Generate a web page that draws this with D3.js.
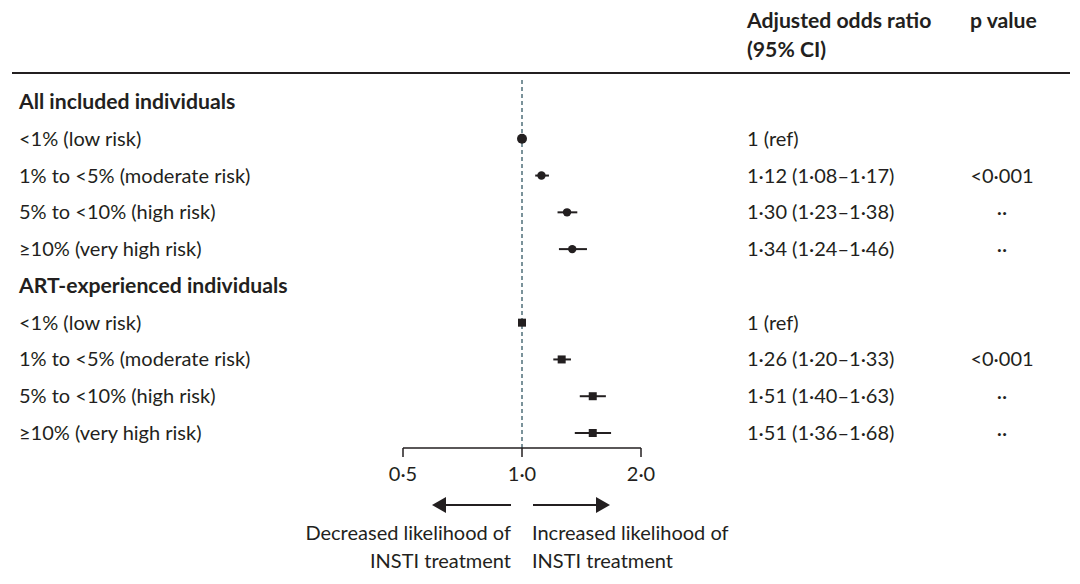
<!DOCTYPE html>
<html>
<head>
<meta charset="utf-8">
<script src="https://cdn.jsdelivr.net/npm/d3@7"></script>
<style>
  body { margin: 0; background: #fff; }
  text { font-family: Lato, "Open Sans", sans-serif; fill: #231f20; }
</style>
</head>
<body>
<div id="chart"></div>
<script>
// rows top to bottom; header rows have no estimate
const labels = ["All included individuals", "<1% (low risk)", "1% to <5% (moderate risk)", "5% to <10% (high risk)", "≥10% (very high risk)",
  "ART-experienced individuals", "<1% (low risk)", "1% to <5% (moderate risk)", "5% to <10% (high risk)", "≥10% (very high risk)"];
const isHeader = [true, false, false, false, false, true, false, false, false, false];
const group = ["all", "all", "all", "all", "all", "art", "art", "art", "art", "art"];
const estimate = [null, 1, 1.12, 1.30, 1.34, null, 1, 1.26, 1.51, 1.51];
const lower = [null, 1, 1.08, 1.23, 1.24, null, 1, 1.20, 1.40, 1.36];
const upper = [null, 1, 1.17, 1.38, 1.46, null, 1, 1.33, 1.63, 1.68];
const orText = ["", "1 (ref)", "1·12 (1·08–1·17)", "1·30 (1·23–1·38)", "1·34 (1·24–1·46)",
  "", "1 (ref)", "1·26 (1·20–1·33)", "1·51 (1·40–1·63)", "1·51 (1·36–1·68)"];
const pText = ["", "", "<0·001", "··", "··", "", "", "<0·001", "··", "··"];
const ticks = [0.5, 1, 2];
const tickLabels = ["0·5", "1·0", "2·0"];

const W = 1080, H = 584;
const ink = "#231f20";
const fs = 20, fsBold = 21.2;
const svg = d3.select("#chart").append("svg").attr("width", W).attr("height", H);

const x = d3.scaleLog().base(2).domain([0.5, 2]).range([403, 641]);
const y = d3.scaleLinear().domain([0, labels.length - 1]).range([102, 433]);

// header
svg.append("text").attr("x", 747).attr("y", 28).attr("font-size", fsBold).attr("font-weight", 700).text("Adjusted odds ratio");
svg.append("text").attr("x", 747).attr("y", 57).attr("font-size", fsBold).attr("font-weight", 700).text("(95% CI)");
svg.append("text").attr("x", 970).attr("y", 28).attr("font-size", fsBold).attr("font-weight", 700).text("p value");
svg.append("line").attr("x1", 12).attr("x2", 1070).attr("y1", 73).attr("y2", 73).attr("stroke", ink).attr("stroke-width", 2);

// reference line
svg.append("line").attr("x1", x(1)).attr("x2", x(1)).attr("y1", 80).attr("y2", 448)
  .attr("stroke", "#4f6f7a").attr("stroke-width", 1.5).attr("stroke-dasharray", "4,3");

const rows = svg.selectAll(".row").data(labels).join("g").attr("class", "row")
  .attr("transform", (d, i) => "translate(0," + y(i) + ")");

rows.append("text").attr("x", 19).attr("dy", "0.35em")
  .attr("font-size", (d, i) => isHeader[i] ? fsBold : fs)
  .attr("font-weight", (d, i) => isHeader[i] ? 700 : 400)
  .text(d => d);

rows.append("text").attr("x", 747).attr("dy", "0.35em").attr("font-size", fs).text((d, i) => orText[i]);
rows.append("text").attr("x", 1002).attr("dy", "0.35em").attr("text-anchor", "middle").attr("font-size", fs).text((d, i) => pText[i]);

// CI lines and markers
const idx = d3.range(labels.length).filter(i => estimate[i] !== null);
svg.selectAll(".ci").data(idx).join("line").attr("class", "ci")
  .attr("x1", i => x(lower[i])).attr("x2", i => x(upper[i]))
  .attr("y1", i => y(i)).attr("y2", i => y(i))
  .attr("stroke", ink).attr("stroke-width", 2);

svg.selectAll(".dot").data(idx.filter(i => group[i] === "all")).join("circle").attr("class", "dot")
  .attr("cx", i => x(estimate[i])).attr("cy", i => y(i))
  .attr("r", i => estimate[i] === 1 ? 5 : 4.2).attr("fill", ink);

svg.selectAll(".sq").data(idx.filter(i => group[i] === "art")).join("rect").attr("class", "sq")
  .attr("x", i => x(estimate[i]) - 4).attr("y", i => y(i) - 4)
  .attr("width", 8).attr("height", 8).attr("fill", ink);

// axis
const axisY = 448;
const axisG = svg.append("g").attr("transform", "translate(0," + axisY + ")");
axisG.append("line").attr("x1", x(0.5)).attr("x2", x(2)).attr("stroke", ink).attr("stroke-width", 1.5);
axisG.selectAll(".tick").data(ticks).join("line").attr("class", "tick")
  .attr("x1", d => x(d)).attr("x2", d => x(d)).attr("y1", 0).attr("y2", 9)
  .attr("stroke", ink).attr("stroke-width", 1.5);
axisG.selectAll(".tl").data(ticks).join("text").attr("class", "tl")
  .attr("x", d => x(d)).attr("y", 33).attr("text-anchor", "middle").attr("font-size", fs)
  .text((d, i) => tickLabels[i]);

// direction arrows
const arrowY = 505;
function arrow(x1, x2) {
  const dir = Math.sign(x2 - x1);
  svg.append("line").attr("x1", x1).attr("x2", x2 - dir * 12).attr("y1", arrowY).attr("y2", arrowY)
    .attr("stroke", ink).attr("stroke-width", 2);
  svg.append("path")
    .attr("d", "M" + x2 + "," + arrowY + "L" + (x2 - dir * 14) + "," + (arrowY - 8) + "L" + (x2 - dir * 14) + "," + (arrowY + 8) + "Z")
    .attr("fill", ink);
}
arrow(511, 432);
arrow(533, 610);

svg.append("text").attr("x", 511).attr("y", 540).attr("text-anchor", "end").attr("font-size", fs).text("Decreased likelihood of");
svg.append("text").attr("x", 511).attr("y", 568).attr("text-anchor", "end").attr("font-size", fs).text("INSTI treatment");
svg.append("text").attr("x", 532).attr("y", 540).attr("font-size", fs).text("Increased likelihood of");
svg.append("text").attr("x", 532).attr("y", 568).attr("font-size", fs).text("INSTI treatment");
</script>
</body>
</html>
